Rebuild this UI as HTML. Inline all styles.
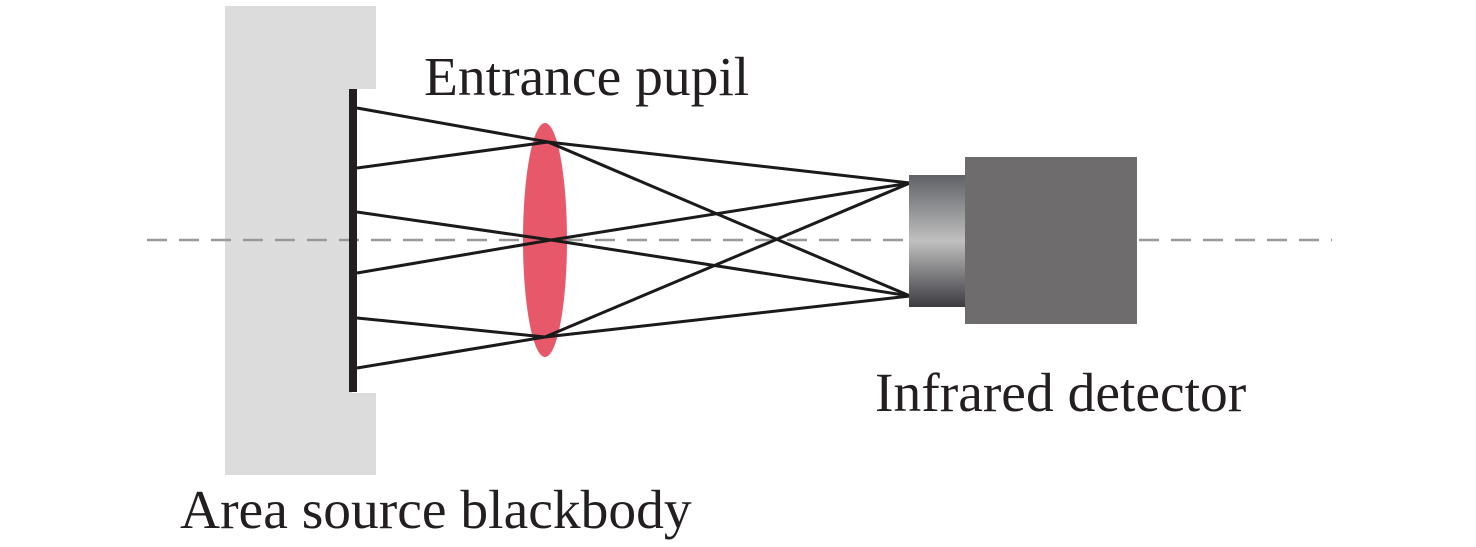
<!DOCTYPE html>
<html><head><style>body{margin:0;background:#fff}svg{display:block}</style></head><body>
<svg width="1476" height="547" viewBox="0 0 1476 547" xmlns="http://www.w3.org/2000/svg">
<defs><linearGradient id="g" x1="0" y1="0" x2="0" y2="1">
<stop offset="0" stop-color="#5f6166"/><stop offset="0.5" stop-color="#c0c0c0"/><stop offset="1" stop-color="#3c3b40"/></linearGradient></defs>
<path d="M225 6H376V89H352V393H376V475H225Z" fill="#dcdcdc"/>
<line x1="147" y1="240" x2="1332" y2="240" stroke="#999" stroke-width="2.5" stroke-dasharray="20 12"/>
<ellipse cx="545" cy="240" rx="22" ry="117" fill="#e8586b"/>
<g stroke="#1a1a1a" stroke-width="3" fill="none">
<polyline points="357,108 548,142 910,296"/>
<polyline points="357,168 548,142 910,183"/>
<polyline points="357,212 551,240 910,296"/>
<polyline points="357,273 551,240 910,183"/>
<polyline points="357,318 545,337 910,183"/>
<polyline points="357,368 545,337 910,296"/>
</g>
<rect x="349" y="89" width="8" height="303" fill="#231f20"/>
<rect x="909" y="175" width="56" height="132" fill="url(#g)"/>
<rect x="965" y="157" width="172" height="167" fill="#6e6c6d"/>
<g font-family="Liberation Serif, serif" font-size="55.5" fill="#231f20">
<text x="424" y="95">Entrance pupil</text>
<text x="875" y="411">Infrared detector</text>
<text x="180" y="528">Area source blackbody</text>
</g>
</svg>
</body></html>
